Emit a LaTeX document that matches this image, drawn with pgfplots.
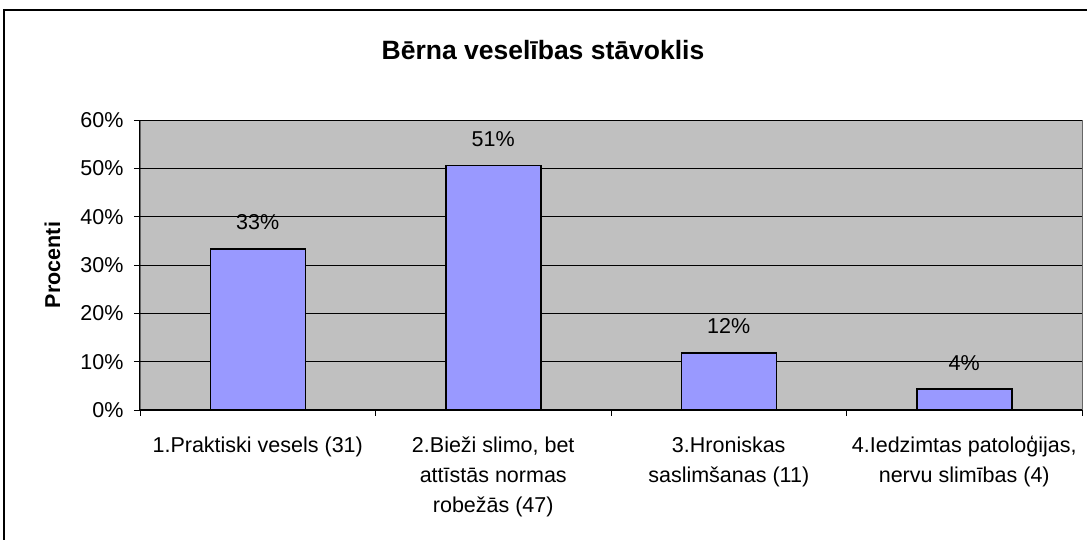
\documentclass[border=0pt]{standalone}
\usepackage{pgfplots}
\pgfplotsset{compat=1.18}
\usepackage{fontspec}
\setmainfont{Liberation Sans}
\definecolor{plotbg}{HTML}{C0C0C0}
\definecolor{barfill}{HTML}{9999FF}
\begin{document}
\begin{tikzpicture}[x=1pt,y=1pt]
\useasboundingbox (0,0) rectangle (1087,540);
% outer chart frame (cut off at right and bottom)
\draw[line width=2pt] (4,0) -- (4,530) -- (1087,530);
\node[font=\fontsize{26.5}{30}\selectfont\bfseries] at (543,490) {Bērna veselības stāvoklis};
\begin{axis}[
  at={(140pt,130pt)}, anchor=south west,
  scale only axis,
  width=942pt, height=290pt,
  ybar, bar width=95pt,
  xmin=-0.5, xmax=3.5,
  ymin=0, ymax=60,
  xtick={0,1,2,3},
  xticklabels={{1.Praktiski vesels (31)},
    {2.Bieži slimo, bet\\attīstās normas\\robežās (47)},
    {3.Hroniskas\\saslimšanas (11)},
    {4.Iedzimtas patoloģijas,\\nervu slimības (4)}},
  major x tick style={draw=none},
  minor xtick={-0.5,0.5,1.5,2.5,3.5},
  minor tick length=6pt,
  ytick={0,10,...,60},
  yticklabels={0\%,10\%,20\%,30\%,40\%,50\%,60\%},
  tick align=outside, major tick length=6pt,
  tick style={black, line width=0.8pt},
  xticklabel style={align=center, font=\fontsize{21.5}{30}\selectfont, yshift=-17pt},
  yticklabel style={font=\fontsize{21.5}{24}\selectfont, xshift=-7pt},
  ymajorgrids, grid style={black, line width=0.7pt},
  axis background/.style={fill=plotbg, draw=gray!80!black},
  axis x line*=bottom, axis y line*=left,
  axis line style={-, black, line width=1pt},
  ylabel={Procenti},
  ylabel style={at={(axis description cs:-0.093,0.5)}, anchor=center,
    font=\fontsize{21.5}{24}\selectfont\bfseries},
  /pgf/number format/assume math mode=true,
  nodes near coords={\pgfmathprintnumber[fixed,precision=0]{\pgfplotspointmeta}\%},
  every node near coord/.append style={font=\fontsize{21.5}{24}\selectfont, yshift=15pt},
]
\addplot[fill=barfill, draw=black, line width=1.5pt]
  coordinates {(0,33.33) (1,50.54) (2,11.83) (3,4.30)};
\end{axis}
\end{tikzpicture}
\end{document}
